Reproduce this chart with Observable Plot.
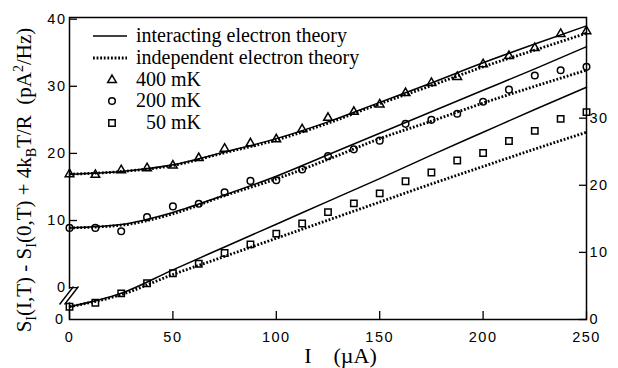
<!DOCTYPE html>
<html><head><meta charset="utf-8">
<script src="https://cdn.jsdelivr.net/npm/d3@7"></script>
<script src="https://cdn.jsdelivr.net/npm/@observablehq/plot@0.6"></script>
<style>html,body{margin:0;padding:0;background:#fff} svg{display:block}</style>
</head><body><div id="chart"></div>
<script>
// Measured currents (µA)
const currents = [0,12.5,25,37.5,50,62.5,75,87.5,100,112.5,125,137.5,150,162.5,175,187.5,200,212.5,225,237.5,250];
// 400 mK and 200 mK: left-axis units; 50 mK: right-axis units (pA²/Hz)
const data400 = [16.9,16.8,17.5,17.8,18.2,19.3,20.7,21.5,22.1,23.6,25.3,26.2,27.3,29.0,30.5,31.4,33.3,34.5,35.7,37.8,38.2];
const data200 = [8.9,8.9,8.4,10.5,12.1,12.5,14.2,15.9,16.0,17.6,19.6,20.6,21.9,24.4,25.0,25.9,27.7,29.5,31.6,32.4,32.9];
const data50  = [1.9,2.5,3.9,5.4,6.9,8.3,9.9,11.2,12.8,14.3,16.0,17.3,18.8,20.6,21.9,23.7,24.8,26.6,28.1,29.9,30.9];
// Theory curves
const theoryCurrents = [0,25,50,75,100,125,150,175,200,225,250];
const interacting400 = [16.9,17.3,18.3,20.2,22.2,24.7,27.6,30.5,33.5,36.3,39.0];
const independent400 = [16.9,17.3,18.2,20.1,22.0,24.5,27.4,30.1,32.9,35.4,37.9];
const interacting200 = [8.9,9.4,11.2,13.8,16.6,19.8,23.0,26.2,29.4,32.6,35.9];
const independent200 = [8.9,9.3,11.0,13.7,16.2,19.1,22.2,24.8,27.5,30.0,32.4];
const interacting50  = [1.9,3.9,7.4,10.8,14.2,17.6,21.0,24.5,27.9,31.3,34.6];
const independent50  = [1.9,3.7,6.7,9.4,12.1,14.8,17.5,20.2,22.8,25.4,27.9];
// Axes
const xTicks = [0,50,100,150,200,250];
const leftTicks = [0,10,20,30,40];
const rightTicks = [0,10,20,30];
const leftOffset = 4.75;   // left-axis zero sits this far above the right-axis zero
const yMax = 45;
const breakRange = [2.5, 4.5];
const legendLabels = ["interacting electron theory","independent electron theory","400 mK","200 mK","\u200750 mK"];
const xLabel = "I\u00a0\u00a0\u00a0\u00a0(\u00b5A)";

const toLeft = v => v + leftOffset;
const points = [
  ...currents.map((I,i)=>({I, v: toLeft(data400[i]), sym: "triangle"})),
  ...currents.map((I,i)=>({I, v: toLeft(data200[i]), sym: "circle"})),
  ...currents.map((I,i)=>({I, v: data50[i], sym: "square"}))
];
const solid = [
  ...theoryCurrents.map((I,i)=>({I, v: toLeft(interacting400[i]), k: "400"})),
  ...theoryCurrents.map((I,i)=>({I, v: toLeft(interacting200[i]), k: "200"})),
  ...theoryCurrents.map((I,i)=>({I, v: interacting50[i], k: "50"}))
];
const dotted = [
  ...theoryCurrents.map((I,i)=>({I, v: toLeft(independent400[i]), k: "400"})),
  ...theoryCurrents.map((I,i)=>({I, v: toLeft(independent200[i]), k: "200"})),
  ...theoryCurrents.map((I,i)=>({I, v: independent50[i], k: "50"}))
];
const symR = {triangle: 3.2, circle: 3.3, square: 3.6};
const DASH = "1.8,1.8", DOTW = 2.8;

function axisBreak(index, {x, y}) {
  const g = d3.create("svg:g");
  const x0 = x(0), yc = y((breakRange[0]+breakRange[1])/2);
  g.append("rect").attr("x", x0-2).attr("y", y(breakRange[1])).attr("width", 4)
    .attr("height", y(breakRange[0]) - y(breakRange[1])).attr("fill", "#fff");
  for (const o of [-2.5, 2.5]) {
    g.append("line").attr("x1", x0-7+o).attr("y1", yc+9).attr("x2", x0+7+o).attr("y2", yc-9)
      .attr("stroke", "#000").attr("stroke-width", 1.4);
  }
  return g.node();
}

function legend(index, scales, values, dims) {
  const g = d3.create("svg:g").style("letter-spacing", "0px")
    .attr("transform", `translate(${dims.marginLeft},${dims.marginTop})`);
  const rowsY = [19, 41, 63, 84, 106];
  const fs = 20;
  legendLabels.forEach((lab, i) => {
    const yy = rowsY[i];
    if (i === 0) g.append("line").attr("x1", 24).attr("x2", 58).attr("y1", yy).attr("y2", yy).attr("stroke","#000").attr("stroke-width",1.5);
    else if (i === 1) g.append("line").attr("x1", 24).attr("x2", 58).attr("y1", yy).attr("y2", yy).attr("stroke","#000").attr("stroke-width",DOTW).attr("stroke-dasharray",DASH).attr("stroke-linecap","butt");
    else {
      const type = ["triangle","circle","square"][i-2];
      const sym = {triangle: d3.symbolTriangle, circle: d3.symbolCircle, square: d3.symbolSquare}[type];
      g.append("path").attr("d", d3.symbol(sym, Math.PI*symR[type]**2)())
        .attr("transform", `translate(43,${yy})`).attr("fill","none").attr("stroke","#000").attr("stroke-width",1.5);
    }
    g.append("text").attr("x", 67).attr("y", yy + 6).attr("text-anchor", "start")
      .attr("font-family", "'Liberation Serif', 'Times New Roman', serif")
      .attr("font-size", fs).attr("fill", "#000").style("white-space","pre").text(lab);
  });
  return g.node();
}

function axisTitles(index, scales, values, dims) {
  const g = d3.create("svg:g").style("letter-spacing","0px")
    .attr("font-family", "'Liberation Serif', 'Times New Roman', serif").attr("fill", "#000");
  const fx = dims.marginLeft, fr = dims.width - dims.marginRight;
  const ft = dims.marginTop, fb = dims.height - dims.marginBottom;
  // x title
  g.append("text").attr("x", (fx+fr)/2 + 13).attr("y", fb + 44).attr("text-anchor","middle")
    .attr("font-size", 22).style("white-space","pre").text(xLabel);
  // y title
  const t = g.append("text").attr("transform", `translate(${fx-38},${(ft+fb)/2 + 12}) rotate(-90)`)
    .attr("text-anchor","middle").attr("font-size", 21).style("white-space","pre");
  const parts = [["S",0],["I",1],["(I,T) - S",0],["I",1],["(0,T) + 4k",0],["B",1],["T/R  (pA",0],["2",-1],["/Hz)",0]];
  let cur = 0;
  for (const [s, m] of parts) {
    const target = m === 1 ? 5 : m === -1 ? -8 : 0;
    const ts = t.append("tspan").attr("dy", target - cur).text(s);
    if (m !== 0) ts.attr("font-size", 14);
    cur = target;
  }
  return g.node();
}

const chart = Plot.plot({
  width: 618, height: 368,
  marginTop: 17, marginBottom: 49, marginLeft: 69, marginRight: 32,
  style: {fontFamily: "'Liberation Sans', Arial, sans-serif", fontSize: "14.5px", background: "#fff", color: "#000", letterSpacing: "1.5px"},
  x: {domain: [0, 250], label: null},
  y: {domain: [0, yMax], label: null},
  marks: [
    Plot.frame({stroke: "#000", strokeWidth: 1.5}),
    axisBreak,
    Plot.axisX(xTicks, {tickSize: -8, tickFormat: () => "", label: null, strokeWidth: 1.3}),
    Plot.axisX(xTicks, {tickSize: 0, tickPadding: 12, label: null}),
    Plot.axisY(leftTicks.map(toLeft), {anchor: "left", tickSize: -8, tickFormat: () => "", label: null, strokeWidth: 1.3}),
    Plot.axisY(leftTicks.map(toLeft), {anchor: "left", tickSize: 0, tickPadding: 3, tickFormat: v => String(Math.round(v - leftOffset)), label: null}),
    Plot.axisY([0], {anchor: "left", tickSize: 0, tickPadding: 5, tickFormat: () => "0", label: null}),
    Plot.axisY(rightTicks, {anchor: "right", tickSize: -8, tickFormat: () => "", label: null, strokeWidth: 1.3}),
    Plot.axisY(rightTicks, {anchor: "right", tickSize: 0, tickPadding: 3, label: null}),
    Plot.line(solid, {x: "I", y: "v", z: "k", stroke: "#000", strokeWidth: 1.5, curve: "monotone-x"}),
    Plot.line(dotted, {x: "I", y: "v", z: "k", stroke: "#000", strokeWidth: DOTW, strokeDasharray: DASH, strokeLinecap: "butt", curve: "monotone-x"}),
    Plot.dot(points.filter(d => d.sym === "triangle"), {x: "I", y: "v", symbol: "triangle", r: symR.triangle, stroke: "#000", strokeWidth: 1.5, fill: "none"}),
    Plot.dot(points.filter(d => d.sym === "circle"), {x: "I", y: "v", symbol: "circle", r: symR.circle, stroke: "#000", strokeWidth: 1.5, fill: "none"}),
    Plot.dot(points.filter(d => d.sym === "square"), {x: "I", y: "v", symbol: "square", r: symR.square, stroke: "#000", strokeWidth: 1.5, fill: "none"}),
    legend,
    axisTitles
  ]
});
document.getElementById("chart").appendChild(chart);
</script>
</body></html>
